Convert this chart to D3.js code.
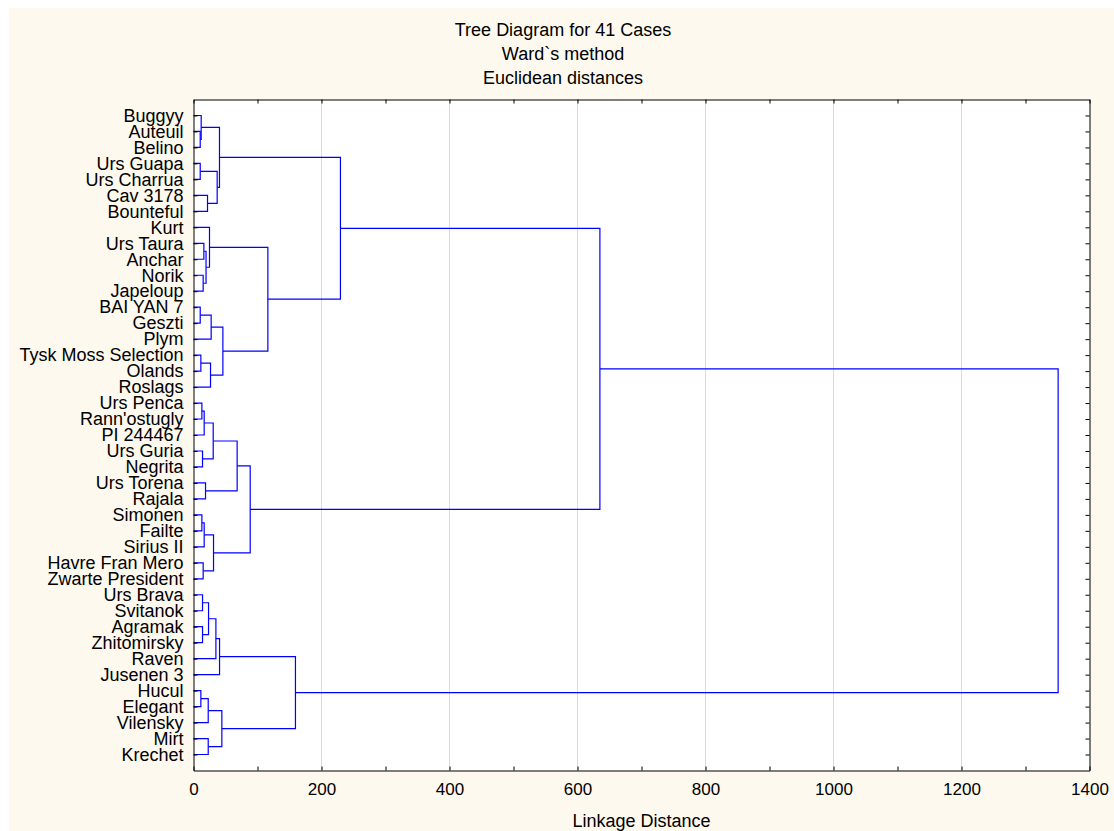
<!DOCTYPE html>
<html lang="en">
<head>
<meta charset="UTF-8">
<title>Tree Diagram for 41 Cases</title>
<script src="https://d3js.org/d3.v7.min.js"></script>
<style>
  body { margin:0; background:#ffffff; }
  svg { display:block; font-family: Arial, "Liberation Sans", sans-serif; }
</style>
</head>
<body>
<svg id="chart" width="1114" height="831"></svg>
<script>
// leaves, top to bottom
var leaves = ["Buggyy", "Auteuil", "Belino", "Urs Guapa", "Urs Charrua", "Cav 3178", "Bounteful",
  "Kurt", "Urs Taura", "Anchar", "Norik", "Japeloup", "BAI YAN 7", "Geszti", "Plym",
  "Tysk Moss Selection", "Olands", "Roslags", "Urs Penca", "Rann'ostugly", "PI 244467",
  "Urs Guria", "Negrita", "Urs Torena", "Rajala", "Simonen", "Failte", "Sirius II",
  "Havre Fran Mero", "Zwarte President", "Urs Brava", "Svitanok", "Agramak", "Zhitomirsky",
  "Raven", "Jusenen 3", "Hucul", "Elegant", "Vilensky", "Mirt", "Krechet"];

// merges: [id, left child, right child, linkage distance]
var merges = [
  ["c1", "Auteuil", "Belino", 10.5],
  ["c2", "Buggyy", "c1", 12],
  ["c3", "Urs Guapa", "Urs Charrua", 10.5],
  ["c4", "Cav 3178", "Bounteful", 21.9],
  ["c5", "c3", "c4", 37],
  ["c6", "c2", "c5", 40.6],
  ["c7", "Urs Taura", "Anchar", 16.2],
  ["c8", "Norik", "Japeloup", 15.1],
  ["c9", "c7", "c8", 19.6],
  ["c10", "Kurt", "c9", 25],
  ["c11", "BAI YAN 7", "Geszti", 10.5],
  ["c12", "c11", "Plym", 27.6],
  ["c13", "Tysk Moss Selection", "Olands", 11.5],
  ["c14", "c13", "Roslags", 26.6],
  ["c15", "c12", "c14", 45.9],
  ["c16", "c10", "c15", 116.2],
  ["c17", "c6", "c16", 229.6],
  ["c18", "Urs Penca", "Rann'ostugly", 13.1],
  ["c19", "c18", "PI 244467", 16.7],
  ["c20", "Urs Guria", "Negrita", 14.1],
  ["c21", "c19", "c20", 30.8],
  ["c22", "Urs Torena", "Rajala", 18.8],
  ["c23", "c21", "c22", 68.2],
  ["c24", "Simonen", "Failte", 13.1],
  ["c25", "c24", "Sirius II", 16.7],
  ["c26", "Havre Fran Mero", "Zwarte President", 15.1],
  ["c27", "c25", "c26", 31.3],
  ["c28", "c23", "c27", 88.6],
  ["c29", "c17", "c28", 635],
  ["c30", "Urs Brava", "Svitanok", 14.1],
  ["c31", "Agramak", "Zhitomirsky", 14.1],
  ["c32", "c30", "c31", 23.5],
  ["c33", "c32", "Raven", 35],
  ["c34", "c33", "Jusenen 3", 40.7],
  ["c35", "Hucul", "Elegant", 11.5],
  ["c36", "c35", "Vilensky", 23],
  ["c37", "Mirt", "Krechet", 23],
  ["c38", "c36", "c37", 44.3],
  ["c39", "c34", "c38", 159.3],
  ["c40", "c29", "c39", 1351]
];

var titleLines = ["Tree Diagram for 41 Cases", "Ward`s method", "Euclidean distances"];
var xTicks = [0, 200, 400, 600, 800, 1000, 1200, 1400];
var xMinor = [100, 300, 500, 700, 900, 1100, 1300];
var xLabel = "Linkage Distance";

var svg = d3.select("#chart"),
  width = +svg.attr("width"),
  height = +svg.attr("height");

var plotLeft = 193.5, plotRight = 1089.5, plotTop = 99.5, plotBottom = 770.5;

var x = d3.scaleLinear().domain([0, 1400]).range([plotLeft, plotRight]);
var y = d3.scalePoint().domain(leaves).range([plotTop, plotBottom]).padding(1);

// cream page background
svg.append("rect")
  .attr("x", 9).attr("y", 8)
  .attr("width", width - 9).attr("height", height - 8)
  .attr("fill", "#fdf9ef");

// plot area
svg.append("rect")
  .attr("x", plotLeft).attr("y", plotTop)
  .attr("width", plotRight - plotLeft).attr("height", plotBottom - plotTop)
  .attr("fill", "#ffffff");

// grid
svg.append("g")
  .selectAll("line")
  .data(xTicks.slice(1, -1))
  .enter().append("line")
    .attr("x1", function(d) { return x(d); })
    .attr("x2", function(d) { return x(d); })
    .attr("y1", plotTop).attr("y2", plotBottom)
    .attr("stroke", "#d9d9d9")
    .attr("stroke-width", 1);

// dendrogram
var pos = {};
leaves.forEach(function(l) { pos[l] = { x: x(0), y: y(l) }; });

var links = svg.append("g")
  .attr("fill", "none")
  .attr("stroke", "#0000ff")
  .attr("stroke-width", 1.2);

merges.forEach(function(m) {
  var a = pos[m[1]], b = pos[m[2]], hx = x(m[3]);
  links.append("path")
    .attr("d", "M" + a.x + "," + a.y + "H" + hx + "V" + b.y + "H" + b.x);
  pos[m[0]] = { x: hx, y: (a.y + b.y) / 2 };
});

// axes (ticks point inwards)
var allTicks = xTicks.concat(xMinor);

svg.append("g")
  .attr("transform", "translate(0," + plotBottom + ")")
  .call(d3.axisBottom(x).tickValues(allTicks).tickSizeInner(-4).tickSizeOuter(0).tickPadding(12)
    .tickFormat(function(d) { return d % 200 === 0 ? d : ""; }))
  .call(function(g) {
    g.select(".domain").attr("stroke", "#000");
    g.selectAll("text").attr("font-size", "17px").attr("fill", "#000").attr("font-family", null);
  });

svg.append("g")
  .attr("transform", "translate(0," + plotTop + ")")
  .call(d3.axisTop(x).tickValues(allTicks).tickSizeInner(-4).tickSizeOuter(0).tickFormat(""))
  .call(function(g) { g.select(".domain").attr("stroke", "#000"); });

svg.append("g")
  .attr("transform", "translate(" + plotLeft + ",0)")
  .call(d3.axisLeft(y).tickSizeInner(-4).tickSizeOuter(0).tickPadding(10))
  .call(function(g) {
    g.select(".domain").attr("stroke", "#000");
    g.selectAll("text").attr("font-size", "18px").attr("fill", "#000").attr("font-family", null);
  });

svg.append("g")
  .attr("transform", "translate(" + plotRight + ",0)")
  .call(d3.axisRight(y).tickSizeInner(-4).tickSizeOuter(0).tickFormat(""))
  .call(function(g) { g.select(".domain").attr("stroke", "#000"); });

// titles
svg.append("g")
  .selectAll("text")
  .data(titleLines)
  .enter().append("text")
    .attr("x", 563)
    .attr("y", function(d, i) { return 36 + i * 24; })
    .attr("text-anchor", "middle")
    .attr("font-size", "18px")
    .attr("fill", "#000")
    .text(function(d) { return d; });

svg.append("text")
  .attr("x", (plotLeft + plotRight) / 2)
  .attr("y", 827)
  .attr("text-anchor", "middle")
  .attr("font-size", "18px")
  .attr("fill", "#000")
  .text(xLabel);
</script>
</body>
</html>
